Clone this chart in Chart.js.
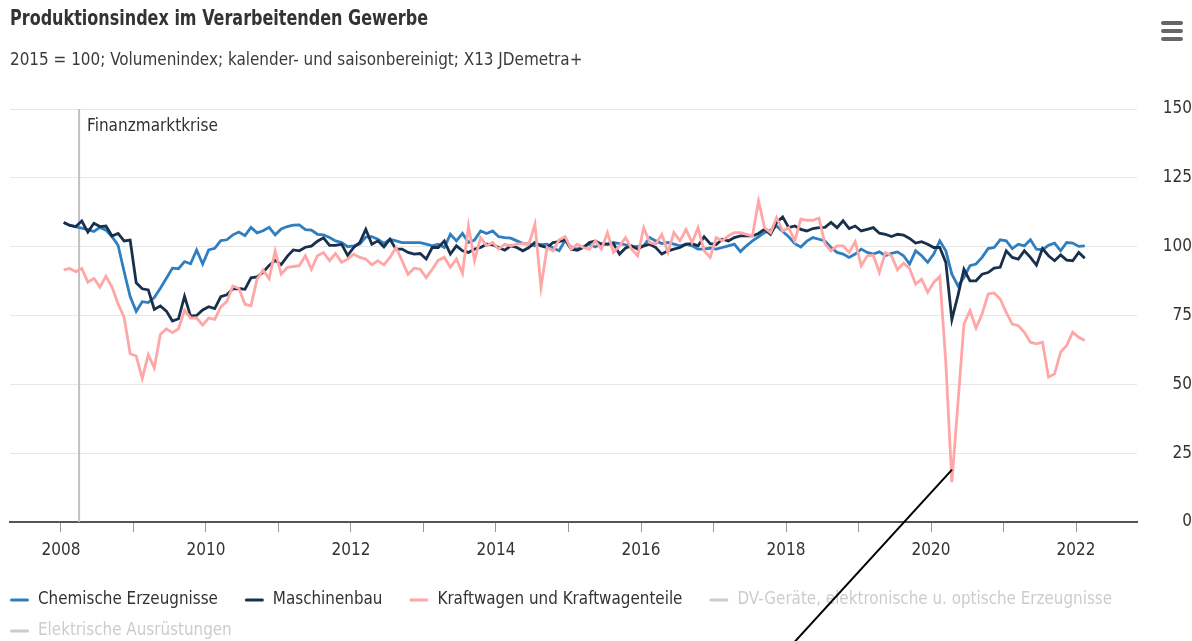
<!DOCTYPE html>
<html lang="de">
<head>
<meta charset="utf-8">
<title>Produktionsindex im Verarbeitenden Gewerbe</title>
<script src="https://cdn.jsdelivr.net/npm/chart.js@4.4.1/dist/chart.umd.min.js"></script>
<style>
  html, body { margin: 0; padding: 0; background: #fff; }
  #wrap { width: 1192px; height: 641px; }
</style>
</head>
<body>
<div id="wrap"><canvas id="chart" width="1192" height="641"></canvas></div>
<script>
// Produktionsindex im Verarbeitenden Gewerbe - Monatswerte Jan 2008 .. Feb 2022 (2015 = 100)
const startYear = 2008;

const chemie = [
    108.8, 107.8, 107.2, 106.7, 106.2, 105.5, 107, 106, 103.6, 100.5, 91, 81.9,
    76.5, 80, 79.7, 81.5, 84.9, 88.5, 92.2, 92, 94.6, 93.8, 98.8, 93.7,
    98.8, 99.4, 102.2, 102.5, 104.3, 105.3, 104, 107, 105, 105.8, 107, 104.3,
    106.4, 107.3, 107.8, 107.9, 106.2, 106, 104.5, 104.3, 103.3, 102.1, 101.5, 100,
    100.3, 101, 103.5, 103.6, 102.7, 101.2, 102.7, 102.1, 101.5, 101.5, 101.5, 101.5,
    100.9, 100.3, 100.9, 99.7, 104.5, 102.1, 104.8, 101.5, 102.4, 105.7, 104.8, 105.7,
    103.6, 103.3, 103.1, 102.1, 101.1, 100.9, 100.3, 100.7, 100.9, 99.5, 98.5, 102.4,
    99.7, 99.1, 99.9, 100.9, 99.9, 101.1, 100.9, 101.5, 101.1, 100.7, 99.9, 100.1,
    100.3, 103.3, 102.1, 101.1, 101.5, 100.9, 100.3, 100.9, 100.3, 99.1, 99.1, 99.5,
    99.1, 99.7, 100.3, 100.9, 98.2, 100.3, 102.1, 103.6, 105.1, 106, 107.5, 105.5,
    103.6, 101.1, 99.9, 102, 103.3, 102.7, 102.1, 99.7, 97.9, 97.3, 96.1, 97.3,
    99.1, 97.9, 97.3, 98.1, 96.7, 97.6, 98.1, 96.7, 93.7, 98.5, 96.7, 94.3,
    97.3, 102.1, 98.5, 90, 85.8, 88.8, 93.1, 93.7, 96.1, 99.3, 99.7, 102.5,
    102.1, 99.3, 100.9, 100.3, 102.5, 99.1, 98.9, 100.5, 101.3, 98.5, 101.5, 101.3,
    100.1, 100.3
];

const maschinenbau = [
    108.8, 107.7, 107.3, 109.3, 105.3, 108.5, 107.3, 107.5, 103.9, 104.8, 102.1, 102.4,
    86.9, 84.7, 84.3, 77.2, 78.5, 76.6, 73, 73.8, 82, 74.8, 75, 77,
    78.2, 77.5, 81.8, 82.5, 84.7, 84.8, 84.5, 88.7, 89, 90.7, 93.2, 95,
    93.5, 96.5, 98.8, 98.5, 99.8, 100.2, 102, 103.2, 100.5, 100.5, 100.9, 96.8,
    99.7, 101.5, 106.3, 100.9, 102.1, 99.9, 102.7, 99.1, 99.1, 97.9, 97.3, 97.5,
    95.5, 99.7, 99.7, 102.1, 97.3, 100.3, 98.5, 97.9, 99.1, 99.7, 100.9, 100.7,
    99.7, 98.7, 100.3, 99.7, 98.5, 99.7, 101.5, 100.3, 99.7, 101.5, 101.8, 102.5,
    99.1, 98.7, 99.7, 101.5, 102.1, 100.9, 100.9, 101.1, 97.3, 99.5, 100.3, 99.1,
    100.3, 100.9, 99.7, 97.3, 98.5, 99.1, 99.7, 100.9, 101.1, 100.3, 103.6, 101.1,
    100.8, 102.7, 102.1, 103.3, 103.9, 103.9, 103.9, 104.8, 106.3, 104.5, 108.8, 110.8,
    106.9, 107.5, 106.3, 105.7, 106.6, 106.9, 107, 108.8, 106.9, 109.4, 106.6, 107.5,
    105.7, 106.3, 106.9, 104.9, 104.5, 103.7, 104.5, 104.2, 103, 101.3, 101.8, 100.9,
    99.7, 99.7, 94.3, 73.5, 82.2, 91.8, 87.6, 87.6, 90, 90.6, 92.2, 92.5,
    98.5, 96.1, 95.5, 98.5, 96.1, 93.3, 99.3, 96.7, 94.9, 97, 95.1, 94.9,
    97.9, 95.8
];

const kraftwagen = [
    91.6, 92.1, 90.9, 92.1, 87.1, 88.5, 85.3, 89.3, 85.3, 79.2, 74.4, 61.1,
    60.3, 52.1, 60.8, 56, 68.1, 70.2, 68.8, 70.2, 76.9, 74.1, 74.1, 71.5,
    74.1, 73.6, 78.1, 80.1, 85.7, 84.8, 79.1, 78.5, 88.2, 91.5, 88.4, 98.4,
    90, 92.4, 92.8, 93.1, 96.7, 91.8, 96.7, 97.9, 94.9, 97.5, 94.3, 95.5,
    97.3, 96.1, 95.5, 93.4, 94.9, 93.4, 96.1, 99.7, 94.9, 90, 92.2, 91.8,
    88.8, 91.8, 95.1, 96.1, 92.5, 95.5, 90.3, 107.5, 94.9, 103.3, 100.3, 101.5,
    99.1, 100.9, 100.3, 100.9, 101.1, 101, 108.2, 85.2, 99.7, 98.5, 102.5, 103.6,
    99.1, 100.9, 99.7, 99.1, 102.1, 99.1, 105.1, 97.9, 100.3, 103.3, 99.1, 96.7,
    106.9, 101.5, 100.9, 104.5, 97.9, 105.1, 102.1, 106.3, 101.5, 106.9, 98.5, 96.1,
    103.3, 102.1, 103.9, 105.1, 105.1, 104.5, 103.9, 116.6, 106.9, 105.1, 110.6, 105.7,
    106.9, 102.1, 110, 109.6, 109.6, 110.4, 100.9, 98.5, 100.3, 100.3, 97.9, 101.8,
    93.1, 96.7, 96.9, 90.6, 97.9, 96.7, 91.6, 94, 92.1, 86.4, 88.2, 83.4,
    87, 89.2, 58, 14.5, 43, 71.9, 76.8, 70.4, 75.5, 82.8, 83.2, 81,
    76.1, 71.9, 71.3, 68.9, 65.3, 64.7, 65.3, 52.6, 53.8, 61.7, 64.1, 68.9,
    67.1, 65.9
];

const seriesNames = [
    'Chemische Erzeugnisse',
    'Maschinenbau',
    'Kraftwagen und Kraftwagenteile',
    'DV-Geräte, elektronische u. optische Erzeugnisse',
    'Elektrische Ausrüstungen'
];
const seriesColors = ['#2f7ebf', '#19304d', '#ffa6a6', '#7f7f7f', '#b0b0b0'];

const yearTicks = [2008, 2009, 2010, 2011, 2012, 2013, 2014, 2015, 2016, 2017, 2018, 2019, 2020, 2021, 2022];
const valueTicks = [0, 25, 50, 75, 100, 125, 150];

const crisisAt = 2008.25;
const crisisLabel = 'Finanzmarktkrise';
// schwarze Hinweislinie (in Datenkoordinaten)
const pointer = { from: { x: 2020.29, y: 19 }, to: { x: 2018.12, y: -43.5 } };

const titleText = 'Produktionsindex im Verarbeitenden Gewerbe';
const subtitleText = '2015 = 100; Volumenindex; kalender- und saisonbereinigt; X13 JDemetra+';

// Schrift: schmal, Groesse so dass die Breiten zum Original passen
const FAMILY = '"Liberation Sans Narrow", "DejaVu Sans Condensed", "Roboto", sans-serif';
function measure(text, weight, size){
    const c = document.createElement('canvas').getContext('2d');
    c.font = weight + ' ' + size + 'px ' + FAMILY;
    return c.measureText(text).width;
}
function fitSize(text, weight, target){
    return 100 * target / measure(text, weight, 100);
}
// Titel: groessere Schrift, waagerecht gestaucht auf die Originalbreite
const titleSize = 21;
const titleSquash = Math.min(1, 418 / measure(titleText, 'bold', titleSize));
const subSize = fitSize(subtitleText, 'normal', 573);
const legendSize = fitSize('Chemische Erzeugnisse', 'normal', 180);
const labelSize = fitSize(crisisLabel, 'normal', 131);

const monthX = chemie.map((_, i) => startYear + (i + 0.45) / 12);
const toPoints = arr => arr.map((v, i) => ({ x: monthX[i], y: v }));

const decorations = {
    id: 'decorations',
    beforeDatasetsDraw(chart){
        const { ctx, chartArea, scales } = chart;
        const px = scales.x.getPixelForValue(crisisAt);
        ctx.save();
        ctx.strokeStyle = '#c0c0c0';
        ctx.lineWidth = 2;
        ctx.beginPath();
        ctx.moveTo(px, chartArea.top);
        ctx.lineTo(px, chartArea.bottom);
        ctx.stroke();
        ctx.restore();
    },
    afterDraw(chart){
        const { ctx, chartArea, scales } = chart;
        ctx.save();
        ctx.textBaseline = 'middle';
        ctx.textAlign = 'left';

        // Titel + Untertitel
        ctx.fillStyle = '#333';
        ctx.font = 'bold ' + titleSize + 'px ' + FAMILY;
        ctx.save();
        ctx.translate(10, 20);
        ctx.scale(titleSquash, 1);
        ctx.fillText(titleText, 0, 0);
        ctx.restore();
        ctx.fillStyle = '#3a3a3a';
        ctx.font = subSize + 'px ' + FAMILY;
        ctx.fillText(subtitleText, 10, 61);

        // Menue-Symbol
        ctx.strokeStyle = '#666';
        ctx.lineWidth = 4;
        ctx.lineCap = 'round';
        [23, 31, 39].forEach(y => {
            ctx.beginPath(); ctx.moveTo(1163, y); ctx.lineTo(1181, y); ctx.stroke();
        });

        // Beschriftung der Plotlinie
        const px = scales.x.getPixelForValue(crisisAt);
        ctx.fillStyle = '#333';
        ctx.font = labelSize + 'px ' + FAMILY;
        ctx.fillText(crisisLabel, px + 8, chartArea.top + 18);

        // Legende
        ctx.font = legendSize + 'px ' + FAMILY;
        let lx = 10, ly = 600;
        chart.data.datasets.forEach((ds, i) => {
            const w = 28 + ctx.measureText(ds.label).width;
            if (lx + w > 1180) { lx = 10; ly += 31; }
            const visible = chart.isDatasetVisible(i);
            ctx.strokeStyle = visible ? ds.borderColor : '#cccccc';
            ctx.lineWidth = 3;
            ctx.beginPath(); ctx.moveTo(lx + 1.5, ly); ctx.lineTo(lx + 17.5, ly); ctx.stroke();
            ctx.fillStyle = visible ? '#333' : '#cccccc';
            ctx.fillText(ds.label, lx + 28, ly);
            lx += w + 27;
        });

        // Hinweislinie
        ctx.strokeStyle = '#000';
        ctx.lineWidth = 2;
        ctx.lineCap = 'butt';
        ctx.beginPath();
        ctx.moveTo(scales.x.getPixelForValue(pointer.from.x), scales.y.getPixelForValue(pointer.from.y));
        ctx.lineTo(scales.x.getPixelForValue(pointer.to.x), scales.y.getPixelForValue(pointer.to.y));
        ctx.stroke();
        ctx.restore();
    }
};

const allSeries = [chemie, maschinenbau, kraftwagen, [], []];
const drawOrder = [2, 1, 0, 3, 4];
const datasets = seriesNames.map((name, i) => ({
    label: name,
    data: toPoints(allSeries[i]),
    borderColor: seriesColors[i],
    backgroundColor: seriesColors[i],
    borderWidth: 2.8,
    pointRadius: 0,
    tension: 0,
    order: drawOrder[i],
    hidden: i > 2
}));

const tickFont = { family: FAMILY, size: labelSize };

new Chart(document.getElementById('chart'), {
    type: 'line',
    data: { datasets },
    plugins: [decorations],
    options: {
        responsive: false,
        animation: false,
        layout: { padding: { left: 10, right: 0, top: 109, bottom: 69 } },
        plugins: { legend: { display: false }, tooltip: { enabled: false } },
        scales: {
            x: {
                type: 'linear',
                min: 2007.297,
                max: 2022.841,
                afterBuildTicks: s => { s.ticks = yearTicks.map(v => ({ value: v })); },
                afterFit: s => { s.height = 50; },
                ticks: {
                    autoSkip: false, maxRotation: 0, padding: 8, color: '#333', font: tickFont,
                    callback: v => (v % 2 === 0 ? String(v) : '')
                },
                grid: { drawOnChartArea: false, drawTicks: true, tickLength: 10, color: '#999' },
                border: { display: true, color: '#555', width: 2 }
            },
            y: {
                position: 'right',
                min: 0,
                max: 150,
                afterBuildTicks: s => { s.ticks = valueTicks.map(v => ({ value: v })); },
                afterFit: s => { s.width = 55; },
                ticks: { crossAlign: 'far', padding: 21, color: '#333', font: tickFont },
                grid: { color: '#e6e6e6', drawTicks: false },
                border: { display: false }
            }
        }
    }
});
</script>
</body>
</html>
